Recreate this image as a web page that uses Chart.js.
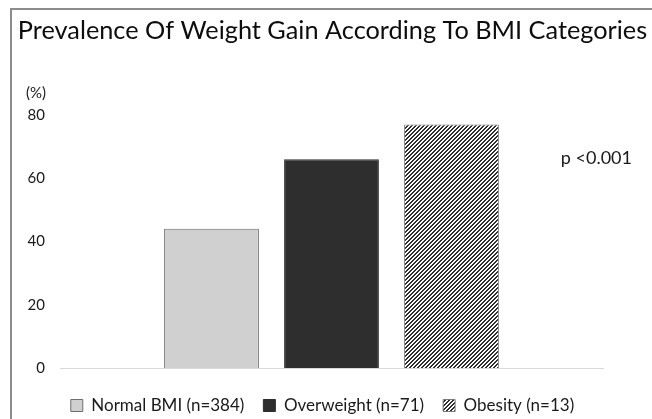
<!DOCTYPE html>
<html>
<head>
<meta charset="utf-8">
<script src="https://cdn.jsdelivr.net/npm/chart.js@4/dist/chart.umd.min.js"></script>
<style>
  html, body { margin: 0; padding: 0; background: #ffffff; }
  #wrap { width: 652px; height: 419px; position: relative; }
</style>
</head>
<body>
<div id="wrap"><canvas id="c" width="652" height="419"></canvas></div>
<script>
// Chart data
const categories = ['Weight gain'];
const seriesLabels = ['Normal BMI (n=384)', 'Overweight (n=71)', 'Obesity (n=13)'];
const normalBmiValues = [44];
const overweightValues = [66];
const obesityValues = [77];
const yTickValues = [0, 20, 40, 60, 80];
const chartTitle = 'Prevalence Of Weight Gain According To BMI Categories';
const unitLabel = '(%)';
const pValueLabel = 'p <0.001';

const FONT = 'Lato, "Liberation Sans", sans-serif';

// legend box offset from its default slot
const LEGEND_SHIFT_X = 15.5;
const LEGEND_SHIFT_Y = 10;

// diagonal hatch fill for the obesity bar
function makeHatch() {
  const size = 8;
  const cv = document.createElement('canvas');
  cv.width = size; cv.height = size;
  const cx = cv.getContext('2d');
  const img = cx.createImageData(size, size);
  for (let y = 0; y < size; y++) {
    for (let x = 0; x < size; x++) {
      const dark = ((x + y) % 4) < 2;
      const v = dark ? 45 : 255;
      const i = (y * size + x) * 4;
      img.data[i] = v; img.data[i + 1] = v; img.data[i + 2] = v; img.data[i + 3] = 255;
    }
  }
  cx.putImageData(img, 0, 0);
  return cx.createPattern(cv, 'repeat');
}
const ctx0 = document.getElementById('c').getContext('2d');
const hatch = makeHatch();

// background, outer frame, title and extra labels
const decorations = {
  id: 'decorations',
  afterLayout(chart) {
    const lg = chart.legend;
    if (lg) {
      lg.left += LEGEND_SHIFT_X; lg.right += LEGEND_SHIFT_X;
      lg.top += LEGEND_SHIFT_Y; lg.bottom += LEGEND_SHIFT_Y;
    }
  },
  beforeDraw(chart) {
    const c = chart.ctx;
    c.save();
    c.fillStyle = '#ffffff';
    c.fillRect(0, 0, chart.width, chart.height);
    c.strokeStyle = '#8c8c8c';
    c.lineWidth = 2;
    c.beginPath();
    c.moveTo(11, chart.height);
    c.lineTo(11, 9);
    c.lineTo(chart.width, 9);
    c.stroke();
    c.restore();
  },
  afterDraw(chart) {
    const c = chart.ctx;
    const y = chart.scales.y;
    const area = chart.chartArea;
    c.save();
    c.fillStyle = '#0d0d0d';
    c.font = '25.3px ' + FONT;
    c.textAlign = 'center';
    c.textBaseline = 'alphabetic';
    c.fillText(chartTitle, 332.5, 39);
    c.fillStyle = '#1a1a1a';
    c.font = '15px ' + FONT;
    c.textAlign = 'right';
    c.textBaseline = 'middle';
    c.fillText(unitLabel, 46, y.getPixelForValue(80) - 22);
    c.font = '18px ' + FONT;
    c.textAlign = 'right';
    c.fillText(pValueLabel, area.right + 29, y.getPixelForValue(66.5));
    c.restore();
  }
};

new Chart(ctx0, {
  type: 'bar',
  data: {
    labels: categories,
    datasets: [
      { label: seriesLabels[0], data: normalBmiValues, backgroundColor: '#d0d0d0', borderColor: '#6e6e6e', borderWidth: 1 },
      { label: seriesLabels[1], data: overweightValues, backgroundColor: '#2e2e2e', borderColor: '#2e2e2e', borderWidth: 1 },
      { label: seriesLabels[2], data: obesityValues, backgroundColor: hatch, borderColor: '#7a7a7a', borderWidth: 1 }
    ]
  },
  options: {
    responsive: false,
    animation: false,
    events: [],
    categoryPercentage: 0.663,
    barPercentage: 0.79,
    layout: { padding: { left: 11, right: 49, top: 115, bottom: 5 } },
    plugins: {
      title: { display: false },
      legend: {
        position: 'bottom',
        labels: {
          color: '#1a1a1a',
          font: { family: FONT, size: 17 },
          boxWidth: 12,
          boxHeight: 12,
          padding: 19
        }
      },
      tooltip: { enabled: false }
    },
    scales: {
      x: {
        afterFit(scale) { scale.height = 0; },
        grid: { display: false },
        ticks: { display: false },
        border: { display: true, color: '#d9d9d9', width: 1 }
      },
      y: {
        min: 0,
        max: 80,
        afterBuildTicks(scale) { scale.ticks = yTickValues.map(v => ({ value: v })); },
        afterFit(scale) { scale.width = 49; },
        grid: { display: false, drawTicks: false },
        border: { display: false },
        ticks: { color: '#1a1a1a', padding: 15, font: { family: FONT, size: 15 } }
      }
    }
  },
  plugins: [decorations]
});
</script>
</body>
</html>
